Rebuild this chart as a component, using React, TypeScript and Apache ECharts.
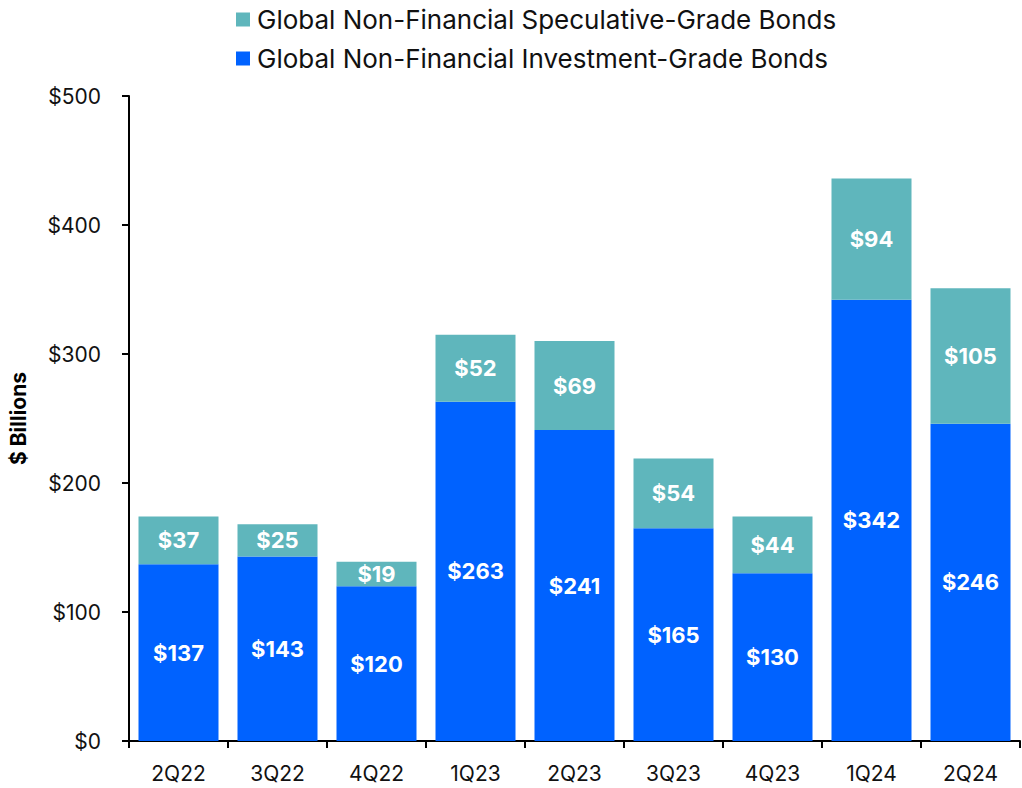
import React, { useEffect, useRef } from "react";
import * as echarts from "echarts";

const categories = ["2Q22", "3Q22", "4Q22", "1Q23", "2Q23", "3Q23", "4Q23", "1Q24", "2Q24"];
const investmentGrade = [137, 143, 120, 263, 241, 165, 130, 342, 246];
const speculativeGrade = [37, 25, 19, 52, 69, 54, 44, 94, 105];
const yTicks = [0, 100, 200, 300, 400, 500];

const IG_NAME = "Global Non-Financial Investment-Grade Bonds";
const SG_NAME = "Global Non-Financial Speculative-Grade Bonds";
const FONT = "Inter, 'Liberation Sans', Arial, sans-serif";

export default function App() {
  const ref = useRef<HTMLDivElement>(null);
  useEffect(() => {
    if (!ref.current) return;
    const chart = echarts.init(ref.current, undefined, { renderer: "svg" });
    const labelStyle = {
      show: true,
      position: "inside" as const,
      color: "#ffffff",
      fontWeight: "bold" as const,
      fontSize: 22,
      fontFamily: FONT,
      formatter: (p: any) => "$" + p.value,
    };
    chart.setOption({
      animation: false,
      textStyle: { fontFamily: FONT },
      legend: {
        orient: "vertical",
        left: 231,
        top: 1,
        itemWidth: 14,
        itemHeight: 14,
        itemGap: 12,
        icon: "rect",
        data: [SG_NAME, IG_NAME],
        textStyle: { fontSize: 26, lineHeight: 27, color: "#111", fontFamily: FONT, padding: [0, 0, 0, 2] },
      },
      grid: { left: 129, right: 2, top: 96, bottom: 47, containLabel: false },
      xAxis: {
        type: "category",
        data: categories,
        axisLine: { lineStyle: { color: "#000", width: 2 } },
        axisTick: { show: true, length: 7, lineStyle: { color: "#000", width: 2 } },
        axisLabel: { fontSize: 21, color: "#111", margin: 22, fontFamily: FONT },
      },
      yAxis: {
        type: "value",
        min: 0,
        max: 500,
        interval: 100,
        name: "$ Billions",
        nameLocation: "middle",
        nameGap: 100,
        nameTextStyle: { fontSize: 21, fontWeight: "bold", color: "#000", fontFamily: FONT },
        axisLine: { show: true, lineStyle: { color: "#000", width: 2 } },
        axisTick: { show: true, length: 7, lineStyle: { color: "#000", width: 2 } },
        splitLine: { show: false },
        axisLabel: {
          fontSize: 21,
          color: "#111",
          margin: 28,
          fontFamily: FONT,
          formatter: (v: number) => (yTicks.includes(v) ? "$" + v : ""),
        },
      },
      series: [
        {
          name: IG_NAME,
          type: "bar",
          stack: "total",
          data: investmentGrade,
          barWidth: 80,
          itemStyle: { color: "#0062ff" },
          label: labelStyle,
        },
        {
          name: SG_NAME,
          type: "bar",
          stack: "total",
          data: speculativeGrade,
          barWidth: 80,
          itemStyle: { color: "#5fb6bc" },
          label: labelStyle,
        },
      ],
    });
    return () => chart.dispose();
  }, []);
  return <div ref={ref} style={{ width: 1022, height: 788, position: "absolute", left: 0, top: 0 }} />;
}
